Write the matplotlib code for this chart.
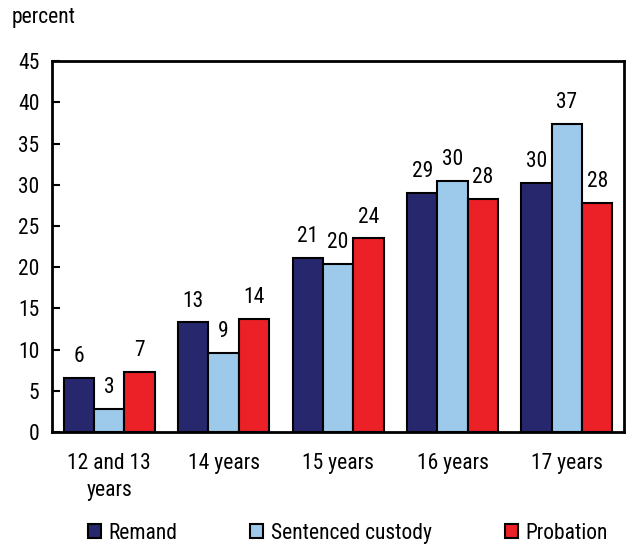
import matplotlib
matplotlib.use("Agg")
import matplotlib.pyplot as plt
import numpy as np
from matplotlib import font_manager

names = {f.name for f in font_manager.fontManager.ttflist}
pref = ["Roboto Condensed", "Archivo Narrow", "PT Sans Narrow", "Liberation Sans Narrow", "Liberation Sans"]
chosen = next((n for n in pref if n in names), "DejaVu Sans")
plt.rcParams['font.family'] = [chosen, "DejaVu Sans"]

categories = ["12 and 13\nyears", "14 years", "15 years", "16 years", "17 years"]
series_names = ["Remand", "Sentenced custody", "Probation"]
remand = [6.6, 13.3, 21.1, 29.0, 30.2]
sentenced = [2.8, 9.6, 20.4, 30.5, 37.4]
probation = [7.3, 13.7, 23.5, 28.3, 27.8]
remand_lbl = ["6", "13", "21", "29", "30"]
sentenced_lbl = ["3", "9", "20", "30", "37"]
probation_lbl = ["7", "14", "24", "28", "28"]
colors = ["#27276E", "#9DC9EA", "#EC2027"]

fig = plt.figure(figsize=(6.26, 5.45), dpi=100)
ax = fig.add_axes([0.083, 0.207, 0.914, 0.681])

x = np.arange(len(categories))
w = 0.265
for i, (vals, lbls) in enumerate([(remand, remand_lbl), (sentenced, sentenced_lbl), (probation, probation_lbl)]):
    pos = x + (i - 1) * w
    ax.bar(pos, vals, w, color=colors[i], edgecolor="black", linewidth=1.5, label=series_names[i], zorder=2)
    for p, v, l in zip(pos, vals, lbls):
        ax.text(p, v + 1.3, l, ha="center", va="bottom", fontsize=15.5)

ax.set_ylim(0, 45)
ax.set_xlim(-0.5, 4.5)
ax.set_yticks(range(0, 46, 5))
ax.set_xticks(x)
ax.set_xticklabels(categories, fontsize=15.5, linespacing=1.4)
ax.tick_params(axis="y", direction="in", length=6, width=1.5, labelsize=15.5, pad=9)
ax.tick_params(axis="x", length=0, pad=15)
for s in ax.spines.values():
    s.set_linewidth(2)

fig.text(0.018, 0.967, "percent", fontsize=15.5, ha="left", va="center")

fig.legend(loc="center left", bbox_to_anchor=(0.14, 0.022), ncol=3, frameon=False,
           fontsize=15.5, handlelength=0.6, handleheight=0.6, handletextpad=0.35,
           columnspacing=3.4, borderpad=0, borderaxespad=0)

fig.savefig("out.png", dpi=100)
